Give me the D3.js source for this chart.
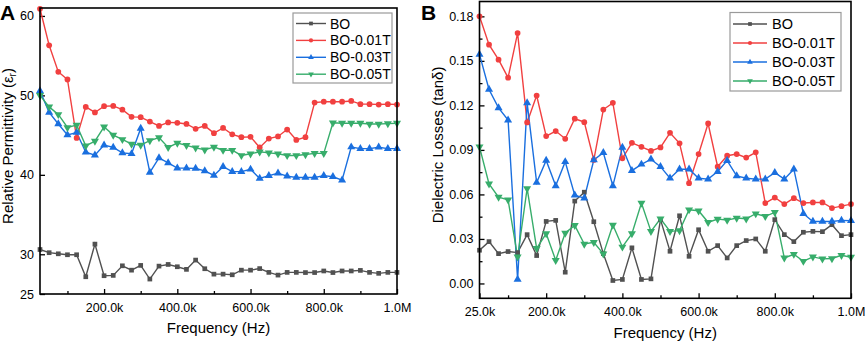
<!DOCTYPE html>
<html><head><meta charset="utf-8">
<script src="https://cdn.jsdelivr.net/npm/d3@7"></script>
<style>
body{margin:0;background:#fff;}
svg{display:block;font-family:"Liberation Sans",Arial,sans-serif;}
</style></head>
<body><svg id="c" width="865" height="343"></svg>
<script>
// ---------- data ----------
const freq = [25000,50000,75000,100000,125000,150000,175000,200000,225000,250000,
  275000,300000,325000,350000,375000,400000,425000,450000,475000,500000,
  525000,550000,575000,600000,625000,650000,675000,700000,725000,750000,
  775000,800000,825000,850000,875000,900000,925000,950000,975000,1000000];
const seriesNames = ["BO","BO-0.01T","BO-0.03T","BO-0.05T"];

const permBO  = [30.6,30.2,30.06,29.94,29.94,27.17,31.28,27.3,27.34,28.55,
  28.0,28.6,26.88,28.51,28.72,28.43,28.1,29.27,28.18,27.5,
  27.5,27.42,28.0,28.0,28.2,27.72,27.38,27.72,27.72,27.7,
  27.7,27.9,27.7,27.9,27.9,27.97,27.72,27.6,27.72,27.72];
const perm01T = [60.9,56.3,52.96,52.0,44.65,48.55,47.85,48.64,48.68,48.2,
  47.3,47.26,46.7,46.16,46.6,46.55,46.4,45.8,46.16,45.25,
  45.9,45.1,44.74,44.78,43.45,44.57,44.83,45.7,44.4,44.74,
  49.1,49.2,49.2,49.2,49.3,48.9,48.9,48.85,48.9,48.85];
const perm03T = [50.57,47.85,46.4,45.03,45.33,42.85,42.48,43.74,43.45,42.77,
  42.65,45.84,40.3,42.14,41.5,40.85,40.84,40.8,40.5,39.92,
  41.03,40.4,40.4,40.7,39.55,39.9,40.2,39.84,39.67,39.67,
  39.67,39.9,39.76,39.33,43.5,43.3,43.3,43.48,43.3,43.3];
const perm05T = [50.0,48.55,47.6,45.96,46.25,43.65,44.24,46.04,45.0,44.45,
  43.86,43.74,44.3,44.7,43.45,44.0,43.7,43.4,43.15,43.5,
  43.1,43.1,42.44,42.65,42.9,42.77,42.65,42.44,42.44,42.56,
  42.7,42.7,46.55,46.5,46.5,46.5,46.4,46.4,46.45,46.5];

const lossBO  = [0.0224,0.0282,0.0201,0.0215,0.0208,0.0329,0.0188,0.0418,0.0425,0.0076,
  0.0555,0.0615,0.0416,0.0201,0.0020,0.0027,0.0240,0.0027,0.0031,0.0430,
  0.0217,0.0456,0.0183,0.0362,0.0217,0.0255,0.0172,0.0255,0.0289,0.0300,
  0.0217,0.0430,0.0329,0.0282,0.0345,0.0351,0.0349,0.0396,0.0322,0.0329];
const loss01T = [0.1800,0.1609,0.1508,0.1387,0.1687,0.1085,0.1266,0.0993,0.1027,0.0975,
  0.1110,0.1087,0.0832,0.1172,0.1217,0.0843,0.0948,0.0921,0.0893,0.0917,
  0.1015,0.0944,0.0676,0.0872,0.1078,0.0787,0.0861,0.0872,0.0848,0.0884,
  0.0542,0.0579,0.0535,0.0575,0.0542,0.0546,0.0546,0.0508,0.0521,0.0535];
const loss03T = [0.1544,0.1307,0.1183,0.1101,0.0027,0.1217,0.0680,0.0829,0.0658,0.0820,
  0.0595,0.0575,0.0832,0.0881,0.0658,0.0917,0.0760,0.0803,0.0837,0.0787,
  0.0709,0.0770,0.0770,0.0709,0.0703,0.0754,0.0828,0.0725,0.0709,0.0703,
  0.0703,0.0747,0.0703,0.0770,0.0470,0.0418,0.0418,0.0418,0.0425,0.0423];
const loss05T = [0.0920,0.0671,0.0582,0.0564,0.0179,0.0640,0.0237,0.0336,0.0156,0.0340,
  0.0391,0.0266,0.0277,0.0199,0.0394,0.0246,0.0336,0.0542,0.0351,0.0436,
  0.0351,0.0356,0.0497,0.0490,0.0412,0.0434,0.0427,0.0441,0.0436,0.0470,
  0.0452,0.0479,0.0172,0.0197,0.0150,0.0179,0.0166,0.0168,0.0190,0.0177];

const xTicksA = [200000,400000,600000,800000,1000000];
const xLabelsA = ["200.0k","400.0k","600.0k","800.0k","1.0M"];
const xTicksB = [25000,200000,400000,600000,800000,1000000];
const xLabelsB = ["25.0k","200.0k","400.0k","600.0k","800.0k","1.0M"];
const xMinor = [100000,300000,500000,700000,900000];
const yTicksA = [25,30,40,50,60];
const yLabelsA = ["25","30","40","50","60"];
const yTicksB = [0,0.03,0.06,0.09,0.12,0.15,0.18];
const yLabelsB = ["0.00","0.03","0.06","0.09","0.12","0.15","0.18"];
const yMinorB = [0.015,0.045,0.075,0.105,0.135,0.165];

// ---------- styles ----------
const colors = ["#515151","#F14040","#1A6FDF","#37AD6B"];
const shapes = [d3.symbolSquare, d3.symbolCircle, d3.symbolTriangle, "down"];

const svg = d3.select("#c");

function marker(g, k, x, y, size) {
  const s = shapes[k];
  let path;
  if (s === "down") {
    path = d3.symbol(d3.symbolTriangle, size)();
    g.append("path").attr("d", path)
      .attr("transform", `translate(${x},${y}) rotate(180)`)
      .attr("fill", colors[k]);
  } else {
    path = d3.symbol(s, size)();
    g.append("path").attr("d", path)
      .attr("transform", `translate(${x},${y})`)
      .attr("fill", colors[k]);
  }
}

function panel(cfg) {
  const x = d3.scaleLinear().domain([25000,1000000]).range([cfg.left, cfg.right]);
  const y = d3.scaleLinear().domain(cfg.ydom).range([cfg.bottom, cfg.top]);
  const g = svg.append("g");

  // axes
  const ax = g.append("g").attr("transform", `translate(0,${cfg.bottom})`)
    .call(d3.axisBottom(x).tickValues(cfg.xTicks)
      .tickFormat((d,i)=>cfg.xLabels[i]).tickSizeInner(-5).tickSizeOuter(0).tickPadding(9));
  const axm = g.append("g").attr("transform", `translate(0,${cfg.bottom})`)
    .call(d3.axisBottom(x).tickValues(xMinor).tickFormat("").tickSizeInner(-3).tickSizeOuter(0));
  const ay = g.append("g").attr("transform", `translate(${cfg.left},0)`)
    .call(d3.axisLeft(y).tickValues(cfg.yTicks)
      .tickFormat((d,i)=>cfg.yLabels[i]).tickSizeInner(-5).tickSizeOuter(0).tickPadding(6));
  [ax, axm, ay].forEach(a => {
    a.select(".domain").remove();
    a.selectAll("line").attr("stroke","#000").attr("stroke-width",1.3);
    a.selectAll("text").attr("font-size","12.5px").attr("fill","#000")
      .attr("font-family","'Liberation Sans',Arial,sans-serif");
  });
  if (cfg.yMinor) {
    const aym = g.append("g").attr("transform", `translate(${cfg.left},0)`)
      .call(d3.axisLeft(y).tickValues(cfg.yMinor).tickFormat("").tickSizeInner(-3).tickSizeOuter(0));
    aym.select(".domain").remove();
    aym.selectAll("line").attr("stroke","#000").attr("stroke-width",1.3);
  }
  if (cfg.firstLabelShift) {
    ay.selectAll(".tick text").filter((d)=>d===cfg.ydom[0]).attr("dy","0.1em");
  }

  // series
  const line = d3.line().x((d,i)=>x(freq[i])).y(d=>y(d));
  cfg.series.forEach((vals,k) => {
    g.append("path").datum(vals).attr("d", line)
      .attr("fill","none").attr("stroke",colors[k]).attr("stroke-width",1.4);
  });
  cfg.series.forEach((vals,k) => {
    const mg = g.append("g");
    vals.forEach((v,i)=> marker(mg, k, x(freq[i]), y(v), k===0?22:(k===1?26:28)));
  });

  // frame
  g.append("rect").attr("x",cfg.left).attr("y",cfg.top)
    .attr("width",cfg.right-cfg.left).attr("height",cfg.bottom-cfg.top)
    .attr("fill","none").attr("stroke","#000").attr("stroke-width",1.6);

  // legend
  const L = cfg.legend;
  g.append("rect").attr("x",L.x).attr("y",L.y).attr("width",L.w).attr("height",L.h)
    .attr("fill","#fff").attr("stroke","#9a9a9a").attr("stroke-width",1.2);
  seriesNames.forEach((n,k)=>{
    const yy = L.y0 + k*L.dy;
    g.append("line").attr("x1",L.lx1).attr("x2",L.lx2).attr("y1",yy).attr("y2",yy)
      .attr("stroke",colors[k]).attr("stroke-width",1.4);
    marker(g, k, (L.lx1+L.lx2)/2, yy, 14);
    g.append("text").attr("x",L.tx).attr("y",yy).attr("dy","0.36em")
      .attr("font-size",L.fs).attr("fill","#000").text(n);
  });

  // axis titles
  g.append("text").attr("x",(cfg.left+cfg.right)/2).attr("y",cfg.xTitleY)
    .attr("text-anchor","middle").attr("font-size","15px").text("Frequency (Hz)");
  const yt = g.append("text").attr("transform",`translate(${cfg.yTitleX},${cfg.yTitleY}) rotate(-90)`)
    .attr("text-anchor","middle").attr("font-size","15px");
  cfg.yTitle(yt);

  // panel letter
  g.append("text").attr("x",cfg.letterX).attr("y",20).attr("font-size","21px")
    .attr("font-weight","bold").text(cfg.letter);
}

panel({
  left:40, right:397, top:8, bottom:294, ydom:[25,61],
  xTicks:xTicksA, xLabels:xLabelsA, yTicks:yTicksA, yLabels:yLabelsA,
  series:[permBO, perm01T, perm03T, perm05T],
  legend:{x:293,y:13,w:99,h:70,y0:23.5,dy:16.9,lx1:296,lx2:326,tx:330,fs:"14px"},
  xTitleY:333, yTitleX:13, yTitleY:146,
  yTitle: t => { t.append("tspan").text("Relative Permittivity (ε");
                 t.append("tspan").attr("font-size","10px").attr("dy","3").text("r");
                 t.append("tspan").attr("dy","-3").text(")"); },
  letter:"A", letterX:0
});
panel({
  left:479.5, right:851, top:1.5, bottom:298.3, ydom:[-0.01,0.19],
  xTicks:xTicksB, xLabels:xLabelsB, yTicks:yTicksB, yLabels:yLabelsB, yMinor:yMinorB,
  series:[lossBO, loss01T, loss03T, loss05T],
  legend:{x:730,y:12.5,w:111,h:78.5,y0:24,dy:19,lx1:733,lx2:767,tx:772,fs:"14.5px"},
  xTitleY:337.5, yTitleX:443, yTitleY:145,
  yTitle: t => { t.text("Dielectric Losses (tanδ)"); },
  letter:"B", letterX:421
});
</script></body></html>
